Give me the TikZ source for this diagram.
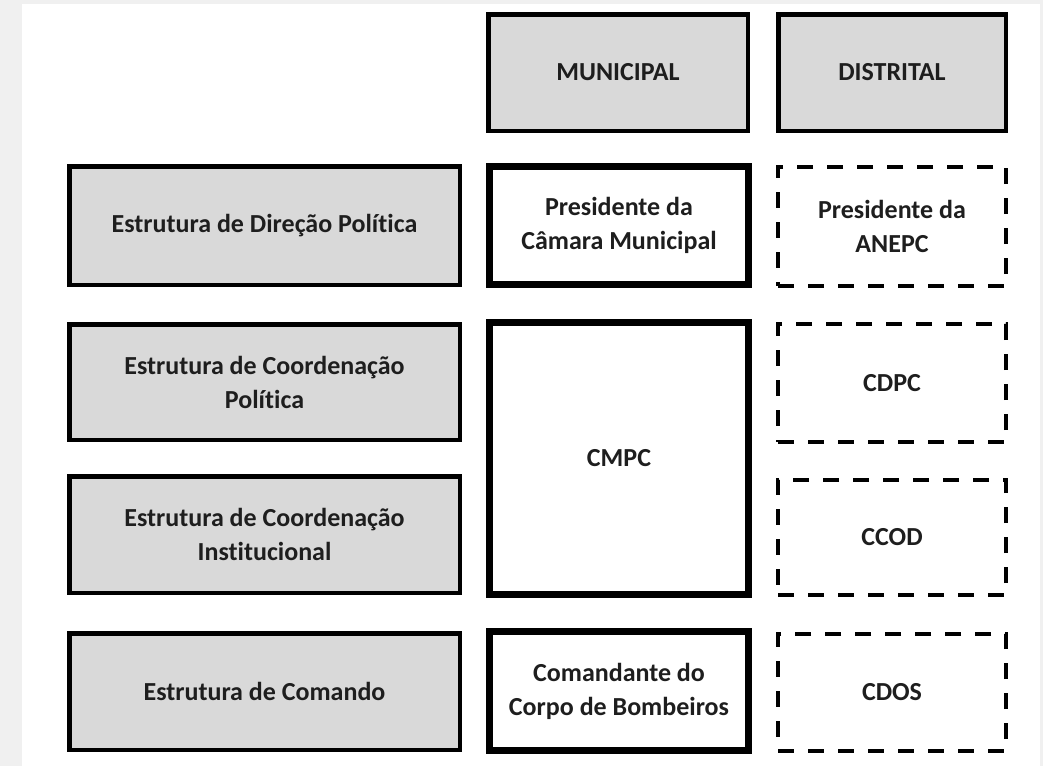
\documentclass[tikz,border=0pt]{standalone}
\usepackage{fontspec}
\setmainfont{Carlito}[Ligatures=NoCommon]
\definecolor{caixa}{HTML}{D9D9D9}
\definecolor{fundo}{HTML}{F0F0F0}
\definecolor{letra}{HTML}{1E1E1E}
\tikzset{
	nivel/.style={draw, line width=4.5pt, fill=caixa, text=letra, align=center, font=\bfseries\fontsize{26}{34}\selectfont},
	estrutura/.style={nivel, minimum width=390.5pt},
	municipal/.style={draw, line width=7pt, fill=white, text=letra, align=center, minimum width=259pt, font=\bfseries\fontsize{26}{34}\selectfont},
	distrital/.style={draw, line width=4pt, dash pattern=on 16pt off 14pt, fill=white, text=letra, align=center, minimum width=228pt, font=\bfseries\fontsize{26}{34}\selectfont}
}
\begin{document}
\begin{tikzpicture}[x=1pt, y=-1pt]
	% Fundo
		\fill[fundo] (0,0) rectangle (1043,766);
		\fill[white] (22,4) rectangle (1040,766);
		\useasboundingbox (0,0) rectangle (1043,766);

	% Cabecalhos
		\node[nivel, minimum width=259.5pt, minimum height=116.5pt] (mun) at (618,72.5) {MUNICIPAL};
		\node[nivel, minimum width=227.5pt, minimum height=116.5pt] (dis) at (892,72.5) {DISTRITAL};

	% Estruturas
		\node[estrutura, minimum height=118.5pt] (direcao) at (264.5,225.5) {Estrutura de Direção Política};
		\node[estrutura, minimum height=115.5pt] (coordpol) at (264.5,382) {Estrutura de Coordenação\\Política};
		\node[estrutura, minimum height=116.5pt] (coordinst) at (264.5,534.5) {Estrutura de Coordenação\\Institucional};
		\node[estrutura, minimum height=116.5pt] (comando) at (264.5,691.5) {Estrutura de Comando};

	% Municipal
		\node[municipal, minimum height=118pt] (pcm) at (619,225.5) {Presidente da\\Câmara Municipal};
		\node[municipal, minimum height=272pt] (cmpc) at (619,458.5) {CMPC};
		\node[municipal, minimum height=119pt] (cbv) at (619,691) {Comandante do\\Corpo de Bombeiros};

	% Distrital
		\node[distrital, minimum height=119pt] (anepc) at (892,226.5) {Presidente da\\ANEPC};
		\node[distrital, minimum height=118pt] (cdpc) at (892,383) {CDPC};
		\node[distrital, minimum height=115pt] (ccod) at (892,537.5) {CCOD};
		\node[distrital, minimum height=117pt] (cdos) at (892,692.5) {CDOS};
\end{tikzpicture}
\end{document}
